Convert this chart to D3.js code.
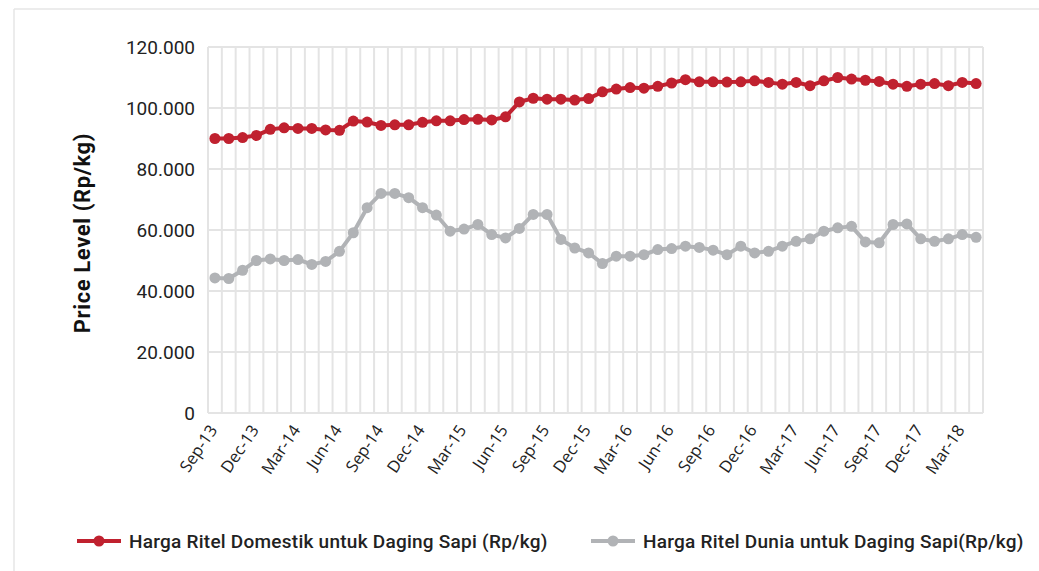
<!DOCTYPE html>
<html>
<head>
<meta charset="utf-8">
<script src="https://cdn.jsdelivr.net/npm/d3@7"></script>
<style>
  body { margin: 0; background: #fff; }
  svg { display: block; }
</style>
</head>
<body>
<script>
var months = ['Sep-13','Oct-13','Nov-13','Dec-13','Jan-14','Feb-14','Mar-14','Apr-14','May-14','Jun-14','Jul-14','Aug-14',
  'Sep-14','Oct-14','Nov-14','Dec-14','Jan-15','Feb-15','Mar-15','Apr-15','May-15','Jun-15','Jul-15','Aug-15',
  'Sep-15','Oct-15','Nov-15','Dec-15','Jan-16','Feb-16','Mar-16','Apr-16','May-16','Jun-16','Jul-16','Aug-16',
  'Sep-16','Oct-16','Nov-16','Dec-16','Jan-17','Feb-17','Mar-17','Apr-17','May-17','Jun-17','Jul-17','Aug-17',
  'Sep-17','Oct-17','Nov-17','Dec-17','Jan-18','Feb-18','Mar-18','Apr-18'];

var domestic = [90000,90000,90300,91000,93000,93500,93300,93300,92800,92700,95700,95400,
  94300,94500,94500,95300,95800,95800,96200,96300,96100,97100,102000,103200,
  102900,102900,102600,103100,105300,106200,106700,106500,107100,108200,109300,108600,
  108600,108500,108600,108900,108400,107800,108400,107300,108900,110000,109500,109100,
  108700,107800,107100,107800,108000,107300,108400,108000];

var world = [44300,44100,46800,50000,50500,50000,50300,48700,49700,53000,59100,67300,
  72000,72000,70600,67300,64900,59600,60300,61800,58500,57400,60500,65100,
  65100,56900,54100,52500,49000,51400,51400,51900,53600,53900,54700,54300,
  53400,51900,54700,52500,53000,54700,56300,57100,59600,60700,61200,56100,
  55800,61800,62000,57100,56300,57100,58500,57600];

var yTicks = [0,20000,40000,60000,80000,100000,120000];
var seriesNames = ['Harga Ritel Domestik untuk Daging Sapi (Rp/kg)', 'Harga Ritel Dunia untuk Daging Sapi(Rp/kg)'];
var seriesColors = ['#c0212f', '#b1b3b6'];

var width = 1039, height = 571;
var margin = {left: 208, right: 56, top: 47, bottom: 158};
var labelFont = 'Roboto, sans-serif';

var svg = d3.select('body').append('svg')
  .attr('width', width)
  .attr('height', height);

// outer frame (top and left edges visible)
svg.append('line').attr('x1', 14).attr('y1', 9).attr('x2', width).attr('y2', 9)
  .attr('stroke', '#e6e6e6').attr('stroke-width', 1.5);
svg.append('line').attr('x1', 14).attr('y1', 9).attr('x2', 14).attr('y2', height)
  .attr('stroke', '#e6e6e6').attr('stroke-width', 1.5);

var x = d3.scaleBand()
  .domain(months)
  .range([margin.left, width - margin.right]);

var y = d3.scaleLinear()
  .domain([0, 120000])
  .range([height - margin.bottom, margin.top]);

var fmt = function(d) { return d === 0 ? '0' : d3.format(',')(d).replace(/,/g, '.'); };

// horizontal grid
svg.append('g').selectAll('line.h')
  .data(yTicks)
  .enter().append('line')
  .attr('class', 'h')
  .attr('x1', margin.left)
  .attr('x2', width - margin.right)
  .attr('y1', function(d) { return y(d); })
  .attr('y2', function(d) { return y(d); })
  .attr('stroke', '#e4e4e4')
  .attr('stroke-width', 2);

// vertical grid between categories
var bounds = months.map(function(m) { return x(m); }).concat([width - margin.right]);
svg.append('g').selectAll('line.v')
  .data(bounds)
  .enter().append('line')
  .attr('class', 'v')
  .attr('x1', function(d) { return d; })
  .attr('x2', function(d) { return d; })
  .attr('y1', y(120000))
  .attr('y2', y(0))
  .attr('stroke', '#e4e4e4')
  .attr('stroke-width', 2);

// y axis labels
var yAxis = d3.axisLeft(y).tickValues(yTicks).tickFormat(fmt).tickSize(0).tickPadding(13);
var gy = svg.append('g')
  .attr('transform', 'translate(' + margin.left + ',0)')
  .call(yAxis);
gy.select('.domain').remove();
gy.selectAll('text')
  .attr('font-family', labelFont)
  .attr('font-size', 19)
  .attr('fill', '#222');

// x axis labels every 3 months
var xAxis = d3.axisBottom(x)
  .tickValues(months.filter(function(d, i) { return i % 3 === 0; }))
  .tickSize(0).tickPadding(0);
var gx = svg.append('g')
  .attr('transform', 'translate(0,' + y(0) + ')')
  .call(xAxis);
gx.select('.domain').remove();
gx.selectAll('text')
  .attr('font-family', '"Open Sans", sans-serif')
  .attr('font-size', 16.5)
  .attr('fill', '#222')
  .attr('text-anchor', 'end')
  .attr('dy', 0)
  .attr('transform', 'translate(3,17) rotate(-56)');

// y axis title
svg.append('text')
  .attr('transform', 'translate(90,' + y(59000) + ') rotate(-90)')
  .attr('text-anchor', 'middle')
  .attr('font-family', labelFont)
  .attr('font-weight', 'bold')
  .attr('font-size', 22)
  .attr('letter-spacing', 0.6)
  .attr('fill', '#111')
  .text('Price Level (Rp/kg)');

var cx = function(d, i) { return x(months[i]) + x.bandwidth() / 2; };
var line = d3.line()
  .x(cx)
  .y(function(d) { return y(d); });

[world, domestic].forEach(function(data, k) {
  var col = k === 0 ? seriesColors[1] : seriesColors[0];
  svg.append('path')
    .datum(data)
    .attr('d', line)
    .attr('fill', 'none')
    .attr('stroke', col)
    .attr('stroke-width', 4);
  svg.append('g').selectAll('circle')
    .data(data)
    .enter().append('circle')
    .attr('cx', cx)
    .attr('cy', function(d) { return y(d); })
    .attr('r', 5.5)
    .attr('fill', col);
});

// legend
var legendX = [77, 591];
var legend = svg.append('g').selectAll('g')
  .data(seriesNames)
  .enter().append('g')
  .attr('transform', function(d, i) { return 'translate(' + legendX[i] + ',541)'; });
legend.append('line')
  .attr('x1', 0).attr('x2', 44)
  .attr('stroke', function(d, i) { return seriesColors[i]; })
  .attr('stroke-width', 4);
legend.append('circle')
  .attr('cx', 22).attr('r', 5.5)
  .attr('fill', function(d, i) { return seriesColors[i]; });
legend.append('text')
  .attr('x', 52)
  .attr('y', 7)
  .attr('font-family', labelFont)
  .attr('font-weight', 500)
  .attr('font-size', 19)
  .attr('letter-spacing', 0.25)
  .attr('fill', '#222')
  .text(function(d) { return d; });
</script>
</body>
</html>
